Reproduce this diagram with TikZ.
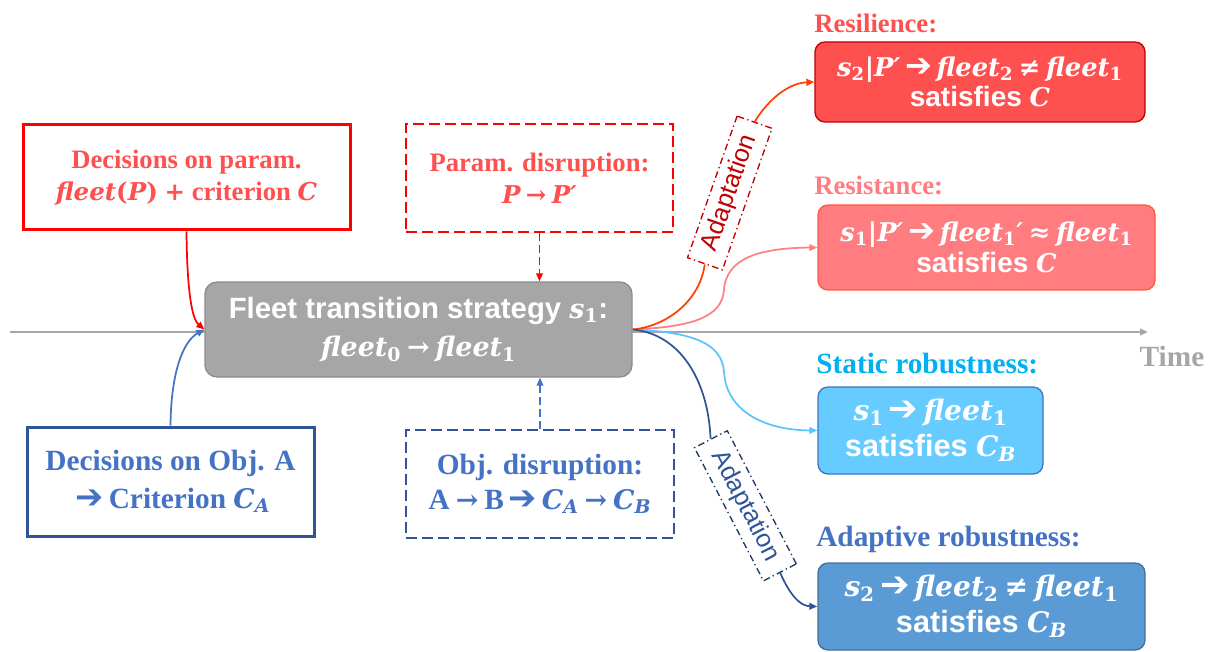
\documentclass[tikz,border=0pt]{standalone}
\usepackage{fontspec}
\setmainfont{Liberation Serif}
\newfontfamily\arial{Liberation Sans}
\newfontfamily\dejavu{DejaVu Sans}
\newfontfamily\mserif{DejaVu Serif}[Scale=0.92]
\usetikzlibrary{arrows.meta}
\definecolor{boxred}{HTML}{FF0000}
\definecolor{txtred}{HTML}{FF5050}
\definecolor{dblue}{HTML}{2F5597}
\definecolor{mblue}{HTML}{4472C4}
\definecolor{gbox}{HTML}{A6A6A6}
\definecolor{gedge}{HTML}{8C8C8C}
\definecolor{resfill}{HTML}{FF5050}
\definecolor{resedge}{HTML}{C00000}
\definecolor{rstfill}{HTML}{FF7C80}
\definecolor{rstedge}{HTML}{FF5A3C}
\definecolor{stlab}{HTML}{00B0F0}
\definecolor{stfill}{HTML}{66CCFF}
\definecolor{adfill}{HTML}{5B9BD5}
\definecolor{adedge}{HTML}{41719C}
\definecolor{cresil}{HTML}{FF4000}
\definecolor{cresist}{HTML}{FF8080}
\definecolor{cstatic}{HTML}{5BC4FF}
\definecolor{adred}{HTML}{C00000}
\definecolor{adnavy}{HTML}{203864}
\newcommand{\harrow}{\,\scalebox{1.15}{\dejavu\char"2794}\,}
\newcommand{\mv}[1]{{\mserif\bfseries\itshape #1}}
\newcommand{\sub}[1]{\textsubscript{\mserif\bfseries\upshape #1}}
\newcommand{\subi}[1]{\textsubscript{\mserif\bfseries\itshape #1}}
\newcommand{\rel}[1]{{\mserif\upshape\hspace{0.22em}#1\hspace{0.22em}}}
\tikzset{
  every node/.style={inner sep=0pt, align=center},
  serifb/.style={font=\fontsize{20}{24}\selectfont\bfseries},
  serifbig/.style={font=\fontsize{22}{28}\selectfont\bfseries},
  solidbox/.style={line width=2.25pt},
  dashbox/.style={line width=1.5pt, dash pattern=on 8pt off 4pt},
  rbox/.style={rounded corners=7.5pt, line width=1pt, text=white},
  sanstext/.style={font=\arial\fontsize{21}{23}\selectfont\bfseries},
  sansbig/.style={font=\arial\fontsize{23}{27}\selectfont\bfseries},
  toplabel/.style={anchor=west, font=\fontsize{20}{24}\selectfont\bfseries},
  toplabelbig/.style={anchor=west, font=\fontsize{22}{26}\selectfont\bfseries},
  tip/.style={-{Triangle[length=6pt,width=5pt]}},
  conn/.style={line width=1.3pt, tip},
  plain/.style={line width=1.3pt},
  adapt/.style={draw, fill=white, line width=1pt,
    dash pattern=on 5pt off 2.5pt on 1pt off 2.5pt,
    minimum width=112.5pt, minimum height=27.75pt,
    font=\arial\fontsize{19}{22}\selectfont},
}
\begin{document}
\begin{tikzpicture}[x=0.75pt,y=-0.75pt]
\useasboundingbox (0,0) rectangle (1210,652);
% timeline
\coordinate (tl0) at (10,332);
\coordinate (tl1) at (1148,332);
\draw[gbox, line width=1.5pt, tip] (tl0) -- (tl1);
\node[font=\fontsize{22}{26}\selectfont\bfseries, text=gbox] (time) at (1172,356) {Time};

% left boxes
\node[draw=boxred, solidbox, serifb, text=txtred, minimum width=245.25pt, minimum height=78.75pt]
  (tl) at (186.5,177.5) {Decisions on param.\\ \mv{fleet}{\mserif\bfseries(}\mv{P}{\mserif\bfseries)} {\mserif+} criterion \mv{C}};
\node[draw=dblue, solidbox, serifbig, text=mblue, minimum width=215.25pt, minimum height=81.75pt]
  (bl) at (170.5,481.5) {Decisions on Obj. A\\ \harrow Criterion \mv{C}\subi{A}};

% disruption boxes
\node[draw=boxred, dashbox, serifb, text=txtred, minimum width=200.25pt, minimum height=81pt]
  (pd) at (539.5,178) {Param. disruption:\\ \mv{P}\rel{→}\mv{P′}};
\node[draw=dblue, dashbox, serifbig, text=mblue, minimum width=201pt, minimum height=81pt,
  font=\fontsize{22}{26}\selectfont\bfseries]
  (od) at (540,484) {Obj. disruption:\\ A\rel{→}B\harrow\mv{C}\subi{A}\rel{→}\mv{C}\subi{B}};

% central box
\node[draw=gedge, fill=gbox, rounded corners=9pt, line width=1pt, text=white,
  minimum width=320.25pt, minimum height=71.25pt, font=\arial\fontsize{22}{29}\selectfont\bfseries]
  (c) at (418.5,329.5) {Fleet transition strategy \mv{s}\sub{1}:\\ \mv{fleet}\sub{0}\rel{→}\mv{fleet}\sub{1}};

% right labels
\node[toplabel, text=resfill] (lres) at (814,23) {Resilience:};
\node[toplabel, text=rstfill] (lrst) at (814,185) {Resistance:};
\node[toplabelbig, text=stlab] (lst) at (816,364) {Static robustness:};
\node[toplabelbig, text=mblue] (lad) at (816,539) {Adaptive robustness:};

% right boxes
\node[rbox, draw=resedge, fill=resfill, sanstext, minimum width=247.5pt, minimum height=60pt]
  (res) at (980,82) {\mv{s}\sub{2}{\mserif\bfseries|}\mv{P′}\harrow\mv{fleet}\sub{2}\rel{≠}\mv{fleet}\sub{1}\\ satisfies \mv{C}};
\node[rbox, draw=rstedge, fill=rstfill, sanstext, minimum width=252.75pt, minimum height=63.75pt]
  (rst) at (986.5,247.5) {\mv{s}\sub{1}{\mserif\bfseries|}\mv{P′}\harrow\mv{fleet}\sub{1}\mv{′}\rel{≈}\mv{fleet}\sub{1}\\ satisfies \mv{C}};
\node[rbox, draw=mblue, fill=stfill, sansbig, minimum width=168.75pt, minimum height=65.25pt]
  (st) at (930.5,430.5) {\mv{s}\sub{1}\harrow\mv{fleet}\sub{1}\\ satisfies \mv{C}\subi{B}};
\node[rbox, draw=adedge, fill=adfill, sansbig, minimum width=245.25pt, minimum height=65.25pt]
  (ad) at (981.5,606.5) {\mv{s}\sub{2}\harrow\mv{fleet}\sub{2}\rel{≠}\mv{fleet}\sub{1}\\ satisfies \mv{C}\subi{B}};

% connectors into central box
\draw[conn, boxred] (tl.south) .. controls (187,285) and (191,318) .. (c.west);
\draw[conn, mblue] (bl.north) .. controls (171,375) and (182,342) .. (c.west);
\draw[conn, boxred, dash pattern=on 6pt off 3pt] (pd.south) -- (pd.south |- c.north);
\draw[conn, mblue, dash pattern=on 6pt off 3pt] (od.north) -- (od.north |- c.south);

% outgoing connectors
\draw[conn, cresist] (c.east) .. controls (690,327) and (722,318) .. (724,290)
   .. controls (726,258) and (760,248) .. (rst.west);
\draw[conn, cstatic] (c.east) .. controls (690,332) and (722,342) .. (724,372)
   .. controls (726,408) and (760,430) .. (st.west);

\node[adapt, draw=adred, text=adred, rotate=70.7] (a1) at (729.75,193) {Adaptation};
\node[adapt, draw=adnavy, text=dblue, rotate=-62.6] (a2) at (745.4,505.8) {Adaptation};

\draw[plain, cresil] (c.east) .. controls (668,326) and (700,300) .. (a1.west);
\draw[conn, cresil] (a1.east) .. controls (770,97) and (790,83) .. (res.west);
\draw[plain, dblue] (c.east) .. controls (680,334) and (708,380) .. (a2.west);
\draw[conn, dblue] (a2.east) .. controls (790,595) and (800,606) .. (ad.west);
\end{tikzpicture}
\end{document}
